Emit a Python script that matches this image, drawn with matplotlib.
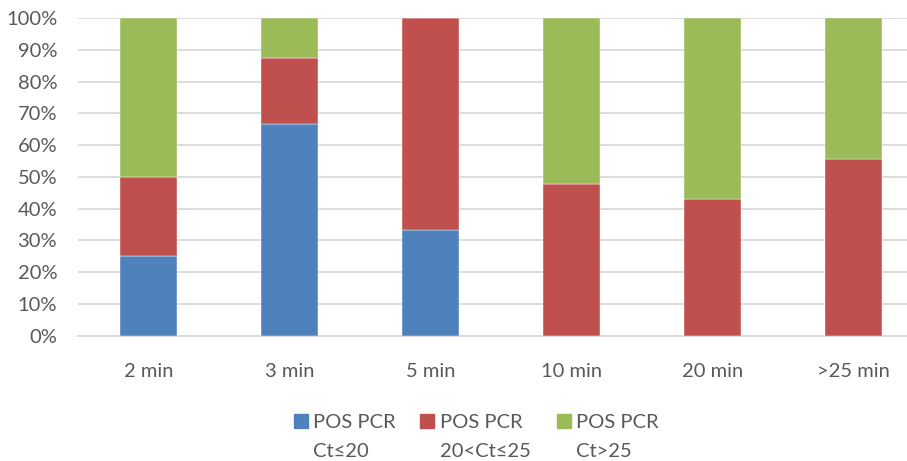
import matplotlib.pyplot as plt
from matplotlib.patches import Rectangle
import numpy as np

plt.rcParams['font.family'] = ['Lato', 'DejaVu Sans']

categories = ["2 min", "3 min", "5 min", "10 min", "20 min", ">25 min"]
ct_low = [25.0, 66.7, 33.3, 0.0, 0.0, 0.0]
ct_mid = [25.0, 20.8, 66.7, 47.8, 42.9, 55.6]
ct_high = [50.0, 12.5, 0.0, 52.2, 57.1, 44.4]
series_labels = ["POS PCR\nCt≤20", "POS PCR\n20<Ct≤25", "POS PCR\nCt>25"]
colors = ["#4f81bd", "#c0504d", "#9bbb59"]

text_color = "#595959"
grid_color = "#d9d9d9"
W, H = 907, 461

fig = plt.figure(figsize=(W / 100, H / 100), dpi=100)
ax = fig.add_axes([78 / W, 1 - 335.7 / H, 846 / W, 317.7 / H])

x = np.arange(len(categories))
bottom = np.zeros(len(categories))
for vals, color in zip([ct_low, ct_mid, ct_high], colors):
    vals = np.array(vals)
    ax.bar(x, vals, width=0.4, bottom=bottom, color=color,
           edgecolor="white", linewidth=0.3, zorder=3)
    bottom += vals

ax.set_xlim(-0.5, len(categories) - 0.5)
ax.set_ylim(0, 100)
ax.set_yticks(np.arange(0, 101, 10))
ax.set_yticklabels([f"{v}%" for v in range(0, 101, 10)])
ax.set_xticks(x)
ax.set_xticklabels(categories)
ax.yaxis.grid(True, color=grid_color, linewidth=1.3, zorder=0)
ax.tick_params(length=0, colors=text_color, labelsize=14.5)
ax.tick_params(axis="x", pad=20)
ax.tick_params(axis="y", pad=15)
for side in ["top", "right", "left"]:
    ax.spines[side].set_visible(False)
ax.spines["bottom"].set_color(grid_color)
ax.spines["bottom"].set_linewidth(1.3)

# legend drawn by hand: square aligned with the first line of each label
square_x = [294, 420, 557]
text_x = [313, 440, 576]
for sx, tx, label, color in zip(square_x, text_x, series_labels, colors):
    fig.patches.append(Rectangle((sx / W, 1 - 428 / H), 14 / W, 14 / H,
                                 transform=fig.transFigure, color=color))
    line1, line2 = label.split("\n")
    fig.text(tx / W, 1 - 428 / H, line1, color=text_color, fontsize=14.5,
             va="baseline", ha="left")
    fig.text(tx / W, 1 - 457 / H, line2, color=text_color, fontsize=14.5,
             va="baseline", ha="left")

fig.savefig("out.png", dpi=100)
